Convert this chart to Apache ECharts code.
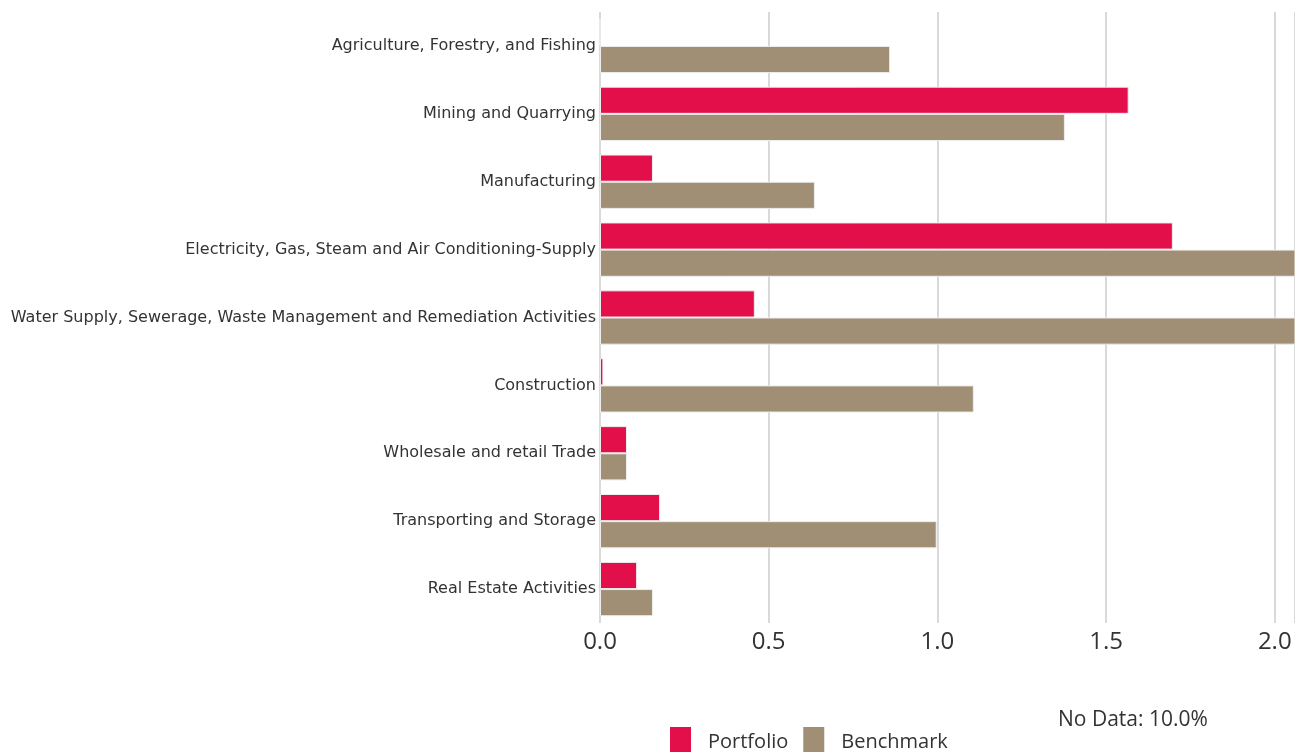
<!DOCTYPE html>
<html>
<head>
<meta charset="utf-8">
<script src="https://cdn.jsdelivr.net/npm/echarts@6/dist/echarts.min.js"></script>
<style>
  html, body { margin: 0; padding: 0; background: #fff; }
  #main { width: 1295px; height: 752px; }
</style>
</head>
<body>
<div id="main"></div>
<script>
// 行业分布（组合 vs 基准）
var categories = [
    'Agriculture, Forestry, and Fishing',
    'Mining and Quarrying',
    'Manufacturing',
    'Electricity, Gas, Steam and Air Conditioning-Supply',
    'Water Supply, Sewerage, Waste Management and Remediation Activities',
    'Construction',
    'Wholesale and retail Trade',
    'Transporting and Storage',
    'Real Estate Activities'
];
var portfolioValues = [0, 1.567, 0.157, 1.698, 0.459, 0.01, 0.08, 0.178, 0.11];
var benchmarkValues = [0.86, 1.378, 0.637, 2.3, 2.5, 1.108, 0.08, 0.998, 0.157];
var seriesNames = ['Portfolio', 'Benchmark'];
var noDataText = 'No Data: 10.0%';

var fontName = 'Open Sans';
var chart = echarts.init(document.getElementById('main'));

chart.setOption({
    animation: false,
    textStyle: { fontFamily: fontName },
    grid: {
        left: 600,
        right: 0,
        top: 12,
        bottom: 129
    },
    legend: {
        data: seriesNames,
        left: 665,
        top: 722,
        itemWidth: 21,
        itemHeight: 30,
        itemGap: 15,
        icon: 'rect',
        itemStyle: { borderWidth: 0 },
        textStyle: { fontSize: 20, color: '#333', fontFamily: fontName, padding: [0, 0, 0, 12] }
    },
    graphic: [{
        type: 'text',
        left: 1058,
        top: 710,
        style: { text: noDataText, fontSize: 21, fill: '#333', fontFamily: fontName }
    }],
    xAxis: {
        type: 'value',
        min: 0,
        max: 2.06,
        interval: 0.5,
        axisLine: { show: false },
        axisTick: { show: false },
        splitLine: { lineStyle: { color: '#d9d9d9', width: 2 } },
        axisLabel: {
            fontSize: 24,
            color: '#333',
            margin: 7,
            showMaxLabel: false,
            formatter: function (v) { return v.toFixed(1); }
        }
    },
    yAxis: {
        type: 'category',
        data: categories,
        inverse: true,
        axisLine: { show: false },
        axisTick: { show: false },
        axisLabel: { fontSize: 16, color: '#333', margin: 4, fontFamily: 'DejaVu Sans', padding: [3, 0, 0, 0] }
    },
    series: [
        {
            name: seriesNames[0],
            type: 'bar',
            data: portfolioValues,
            barGap: '0%',
            barCategoryGap: '20%',
            itemStyle: { color: '#e30f4a', borderColor: '#eeeeee', borderWidth: 1 }
        },
        {
            name: seriesNames[1],
            type: 'bar',
            data: benchmarkValues,
            barGap: '0%',
            barCategoryGap: '20%',
            itemStyle: { color: '#a08f74', borderColor: '#eeeeee', borderWidth: 1 }
        }
    ]
});
</script>
</body>
</html>
